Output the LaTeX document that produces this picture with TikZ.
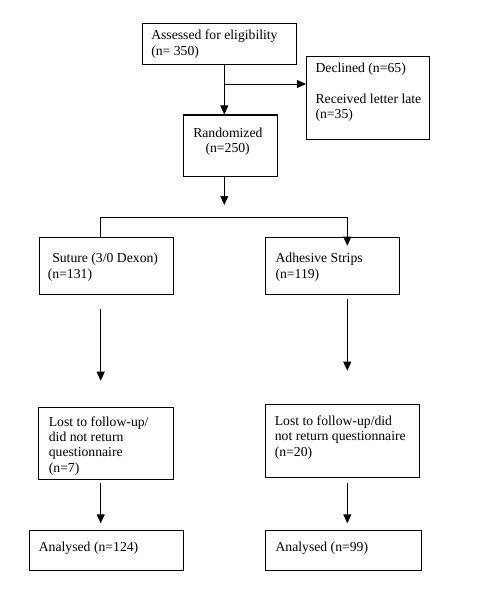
\documentclass[tikz,border=0pt]{standalone}
\usepackage{fontspec}
\setmainfont{Liberation Serif}
\usetikzlibrary{arrows.meta}
\newcommand\boxtext[5]{\parbox[t][#2pt][t]{#1pt}{\fontsize{13.7pt}{15.3pt}\selectfont\raggedright\leftskip=#3\relax\rule{0pt}{#4}#5}}
\tikzset{
  fbox/.style={draw=black, line width=1.1pt, inner sep=0pt, anchor=north west},
  conn/.style={draw=black, line width=0.9pt},
  arr/.style={conn, -{Triangle[length=9pt,width=8pt]}}
}
\begin{document}
\begin{tikzpicture}[x=1pt,y=-1pt]
\useasboundingbox (0,0) rectangle (478,591);
% boxes
\node[fbox] (assess) at (141.7,23.3) {\boxtext{154}{40.7}{9pt}{16pt}{Assessed for eligibility\\(n= 350)}};
\node[fbox] (declined) at (306,56) {\boxtext{123.3}{83.3}{9pt}{16.3pt}{Declined (n=65)\\[15.3pt]Received letter late\\(n=35)}};
\node[fbox] (random) at (182.7,114.5) {\boxtext{93.8}{61.5}{10pt}{22pt}{Randomized\\\hspace*{12.3pt}(n=250)}};
\node[fbox] (suture) at (39,236.7) {\boxtext{134.3}{57.6}{8.3pt}{25.6pt}{\hspace*{4.4pt}Suture (3/0 Dexon)\\(n=131)}};
\node[fbox] (adhesive) at (265,236.7) {\boxtext{134}{57.3}{10pt}{25.6pt}{Adhesive Strips\\(n=119)}};
\node[fbox] (lost1) at (38.3,406.7) {\boxtext{135}{72.3}{10pt}{19pt}{Lost to follow-up/\\did not return\\questionnaire\\(n=7)}};
\node[fbox] (lost2) at (265,404.3) {\boxtext{154.3}{72.4}{9.3pt}{20.7pt}{Lost to follow-up/did\\not return questionnaire\\(n=20)}};
\node[fbox] (an1) at (29,530) {\boxtext{154.3}{40}{9.3pt}{21pt}{Analysed (n=124)}};
\node[fbox] (an2) at (265,530) {\boxtext{155.7}{40}{10pt}{21pt}{Analysed (n=99)}};
% helper coordinates
\coordinate (xline) at (224.3,0);
\coordinate (b1) at (224.3,84);
\coordinate (r1) at (224.3,205);
\coordinate (tl) at (100.7,217.7);
\coordinate (tr) at (347.3,217.7);
\coordinate (tr2) at (347.3,245.7);
\coordinate (la1) at (100.7,309);
\coordinate (la2) at (100.7,380.7);
\coordinate (ra1) at (347.3,299);
\coordinate (ra2) at (347.3,370.7);
\coordinate (lb1) at (100.7,483.3);
\coordinate (lb2) at (100.7,523.3);
\coordinate (rb1) at (347.3,483.3);
\coordinate (rb2) at (347.3,523.3);
% connectors
\draw[arr] (xline |- assess.south) -- (xline |- random.north);
\draw[arr] (b1) -- (b1 -| declined.west);
\draw[arr] (xline |- random.south) -- (r1);
\draw[arr] (tl |- suture.north) -- (tl) -- (tr) -- (tr2);
\draw[arr] (la1) -- (la2);
\draw[arr] (ra1) -- (ra2);
\draw[arr] (lb1) -- (lb2);
\draw[arr] (rb1) -- (rb2);
\end{tikzpicture}
\end{document}
